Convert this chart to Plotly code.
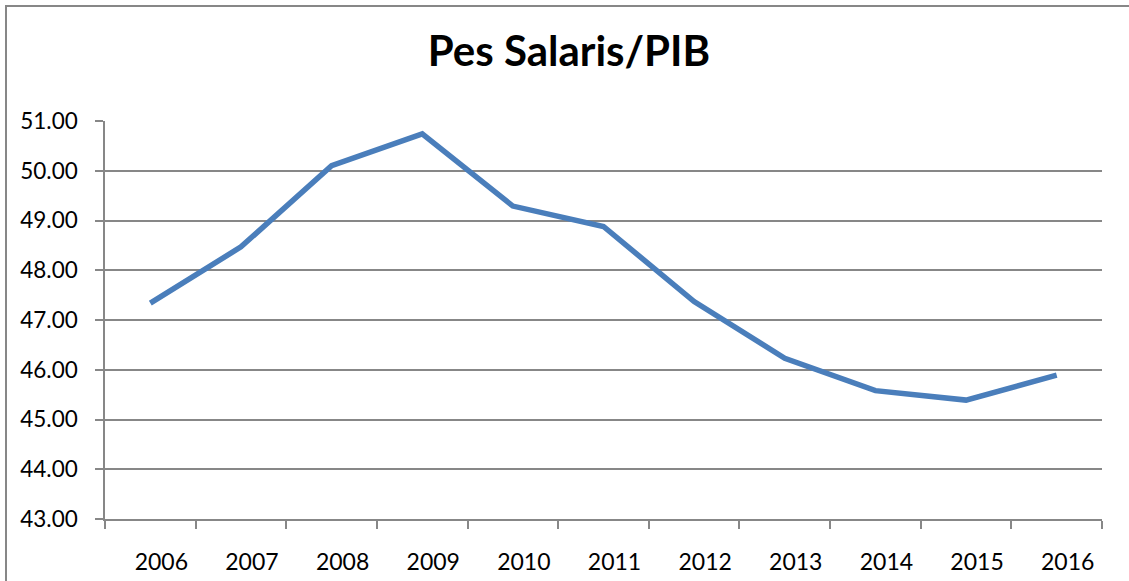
import plotly.graph_objects as go

years = ["2006", "2007", "2008", "2009", "2010", "2011", "2012", "2013", "2014", "2015", "2016"]
pes_salaris = [47.34, 48.47, 50.10, 50.74, 49.29, 48.88, 47.37, 46.23, 45.58, 45.39, 45.89]
y_ticks = [43, 44, 45, 46, 47, 48, 49, 50, 51]
title_text = "Pes Salaris/PIB"

W, H = 1129, 581
L, R, T, B = 105, 27, 121, 62
pw, ph = W - L - R, H - T - B

GRAY = "#878787"
FONT = "Lato, Calibri, Carlito, sans-serif"

fig = go.Figure()
fig.add_trace(go.Scatter(
    x=years, y=pes_salaris, mode="lines",
    line=dict(color="#4a7ebb", width=5.5),
    showlegend=False,
))

# chart-area border (top and left visible, right/bottom run off the picture)
fig.add_shape(type="rect", xref="paper", yref="paper",
              x0=(6 - L) / pw, x1=(W + 40 - L) / pw,
              y0=-(B + 40) / ph, y1=(H - 6 - B) / ph,
              line=dict(color=GRAY, width=2), layer="below")

fig.update_layout(
    width=W, height=H,
    margin=dict(l=L, r=R, t=T, b=B, pad=0, autoexpand=False),
    paper_bgcolor="white", plot_bgcolor="white",
    font=dict(family=FONT, color="black"),
    title=dict(text="<b>" + title_text + "</b>", x=569 / W, xanchor="center",
               y=1 - 51 / H, yanchor="middle", yref="container",
               font=dict(size=42, family=FONT, color="black")),
)
fig.update_xaxes(
    type="category", tickson="boundaries", automargin=False,
    showline=True, linecolor=GRAY, linewidth=1.5,
    ticks="outside", ticklen=8, tickcolor=GRAY, tickwidth=1.5,
    showgrid=False, zeroline=False,
    tickfont=dict(size=23, family=FONT, color="black"),
    ticklabelshift=11, ticklabelstandoff=22,
    range=[-0.5, len(years) - 0.5], fixedrange=True,
)
fig.update_yaxes(
    range=[43, 51], tickvals=y_ticks, automargin=False,
    ticktext=[f"{v:.2f}" for v in y_ticks],
    showline=True, linecolor=GRAY, linewidth=1.5,
    ticks="outside", ticklen=8, tickcolor=GRAY, tickwidth=1.5,
    showgrid=True, gridcolor=GRAY, gridwidth=1.5,
    zeroline=False,
    tickfont=dict(size=22.5, family=FONT, color="black"),
    ticklabelstandoff=13, fixedrange=True,
)

fig.write_html("out.html", config={"displayModeBar": False},
               post_script="document.body.style.margin='0';document.body.style.overflow='hidden';")
